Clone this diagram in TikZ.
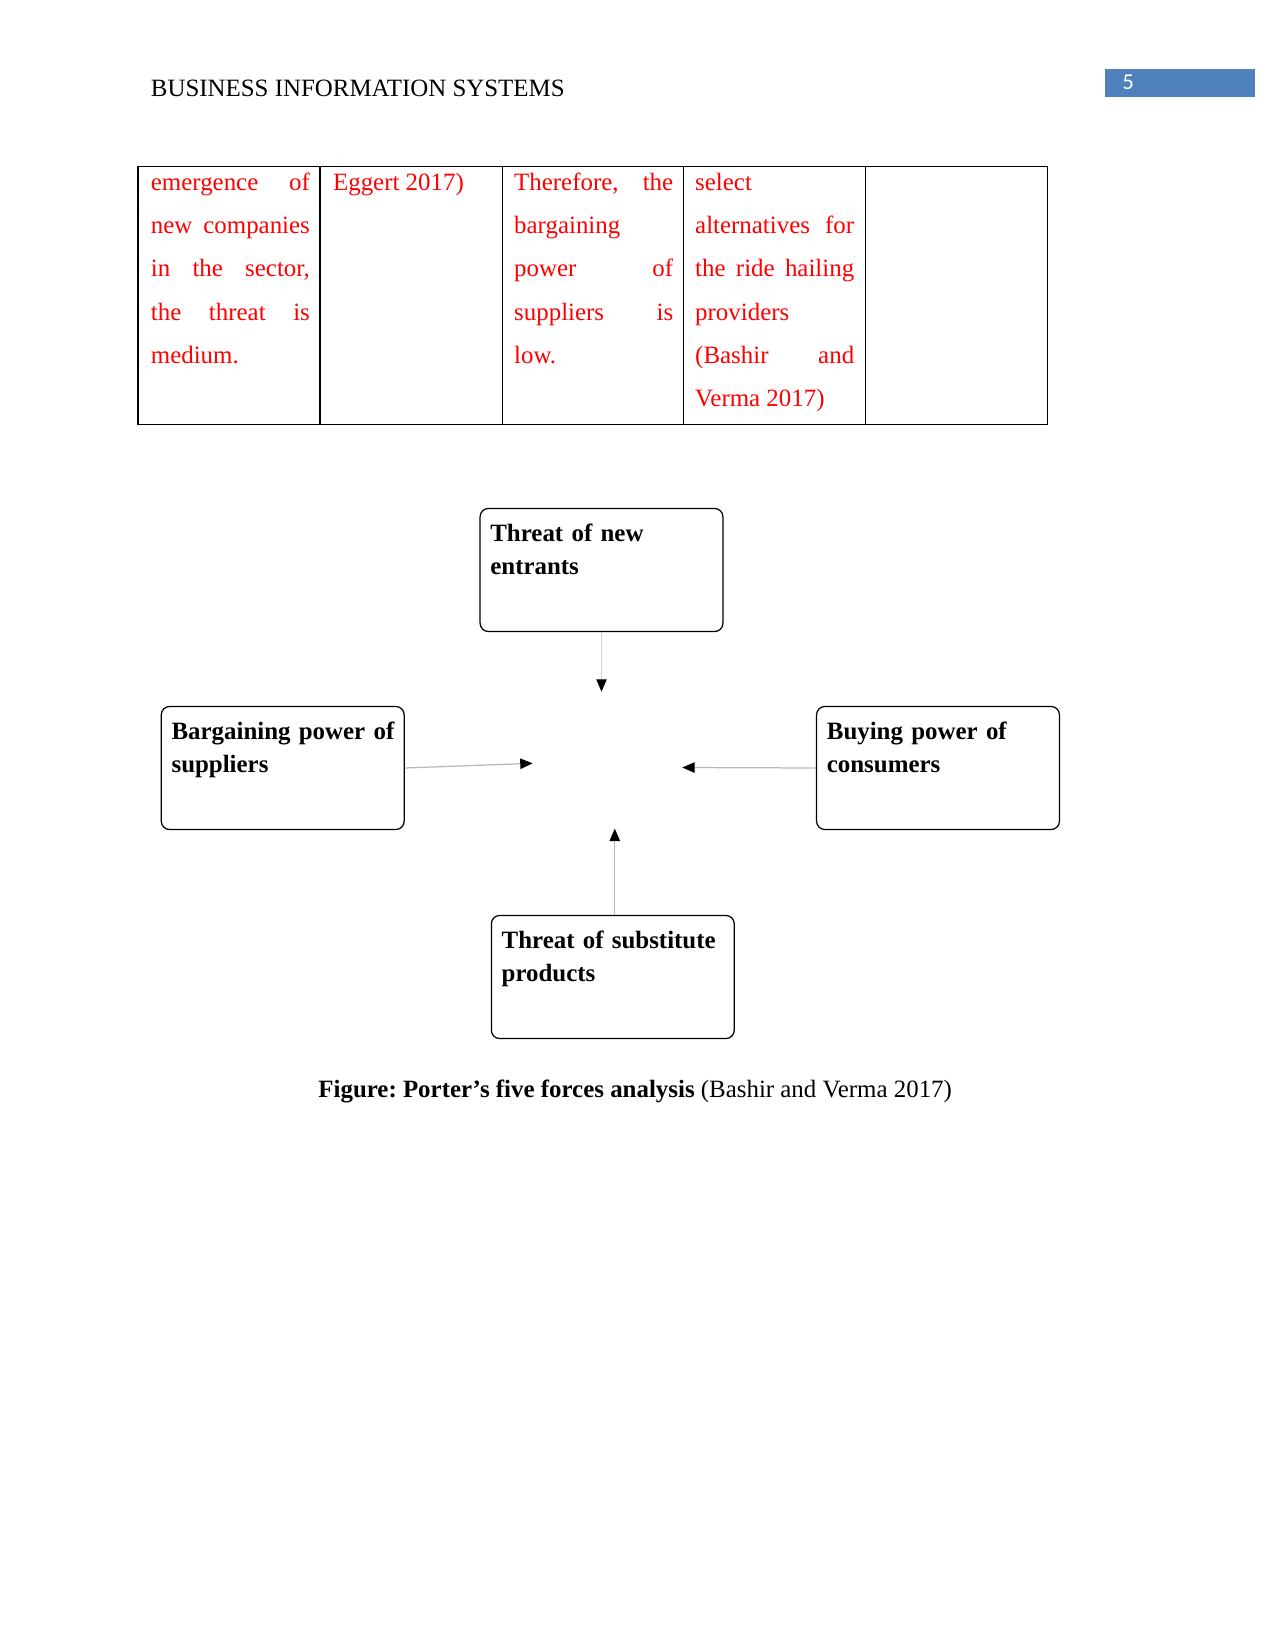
\documentclass[tikz,border=0pt]{standalone}
\usepackage{fontspec}
\setmainfont{Liberation Serif}
\newfontfamily\pagenumfont{Carlito}
\usetikzlibrary{arrows.meta, calc}
\frenchspacing

\definecolor{headerblue}{RGB}{79,129,189}
\definecolor{notered}{RGB}{255,0,0}

\begin{document}
\begin{tikzpicture}[x=0.4818pt, y=-0.4818pt, >=Stealth,
    force/.style={draw, rounded corners=4pt, line width=0.6pt, minimum width=117pt, minimum height=59.3pt, inner sep=0pt},
    forcetext/.style={anchor=base west, inner sep=0pt, text width=108pt, align=left, font=\fontsize{12}{15.9}\selectfont\bfseries},
    celltext/.style={anchor=base west, inner sep=0pt, text width=76.6pt, align=justify, text=notered, font=\fontsize{12}{20.8}\selectfont},
    push/.style={draw=gray!55, line width=0.6pt, -{Triangle[black, length=6pt, width=5pt]}}]
    \useasboundingbox (0,0) rectangle (1275,1651);

    % running header
    \node[anchor=base west, inner sep=0pt, font=\fontsize{12}{14}\selectfont] (header) at (150.5,96.7) {BUSINESS INFORMATION SYSTEMS};
    \fill[headerblue] (1105,69.5) rectangle (1255,97);
    \node[anchor=base west, inner sep=0pt, text=white, font=\pagenumfont\fontsize{11}{13}\selectfont] (pagenum) at (1122,90) {5};

    % end of the table from the previous page
    \draw[line width=0.6pt] (137.9,166.3) rectangle (1047.5,424.3);
    \foreach \x in {320.1, 502.2, 683.3, 865.4}
        \draw[line width=0.6pt] (\x,166.3) -- (\x,424.3);
    \node[celltext] (newcos) at (150.5,190.5) {emergence of\linebreak new companies\linebreak in the sector,\linebreak the threat is\linebreak medium.};
    \node[celltext] (eggert) at (332.7,190.5) {Eggert 2017)};
    \node[celltext] (suppl) at (513.8,190.5) {Therefore, the\linebreak bargaining\linebreak power of\linebreak suppliers is\linebreak low.};
    \node[celltext] (select) at (694.8,190.5) {select\linebreak alternatives for\linebreak the ride hailing\linebreak providers\linebreak (Bashir and\linebreak Verma 2017)};

    % five forces
    \node[force] (entrants) at (601.5,570) {};
    \node[force] (suppliers) at (282.7,768) {};
    \node[force] (consumers) at (938,768) {};
    \node[force] (substitutes) at (612.8,977) {};

    \node[forcetext] (entrantsText) at ($(entrants.north west)+(10.5,33.5)$) {Threat of new\\entrants};
    \node[forcetext] (suppliersText) at ($(suppliers.north west)+(10.5,33.5)$) {Bargaining power of\\suppliers};
    \node[forcetext] (consumersText) at ($(consumers.north west)+(10.5,33.5)$) {Buying power of\\consumers};
    \node[forcetext] (substitutesText) at ($(substitutes.north west)+(10.5,33.5)$) {Threat of substitute\\products};

    \coordinate (tipN) at (601.5,691.7);
    \coordinate (tipW) at (532.7,763.3);
    \coordinate (tipE) at (682.2,767.5);
    \coordinate (tipS) at (614.8,828.6);

    \draw[push, draw=gray!35] (entrants.south) -- (tipN);
    \draw[push] (suppliers.east) -- (tipW);
    \draw[push] (consumers.west) -- (tipE);
    \draw[push] (substitutes.north -| tipS) -- (tipS);

    % caption
    \node[anchor=base west, inner sep=0pt, font=\fontsize{12}{14}\selectfont] (caption) at (318,1097) {\textbf{Figure: Porter’s five forces analysis} (Bashir and Verma 2017)};
\end{tikzpicture}
\end{document}
